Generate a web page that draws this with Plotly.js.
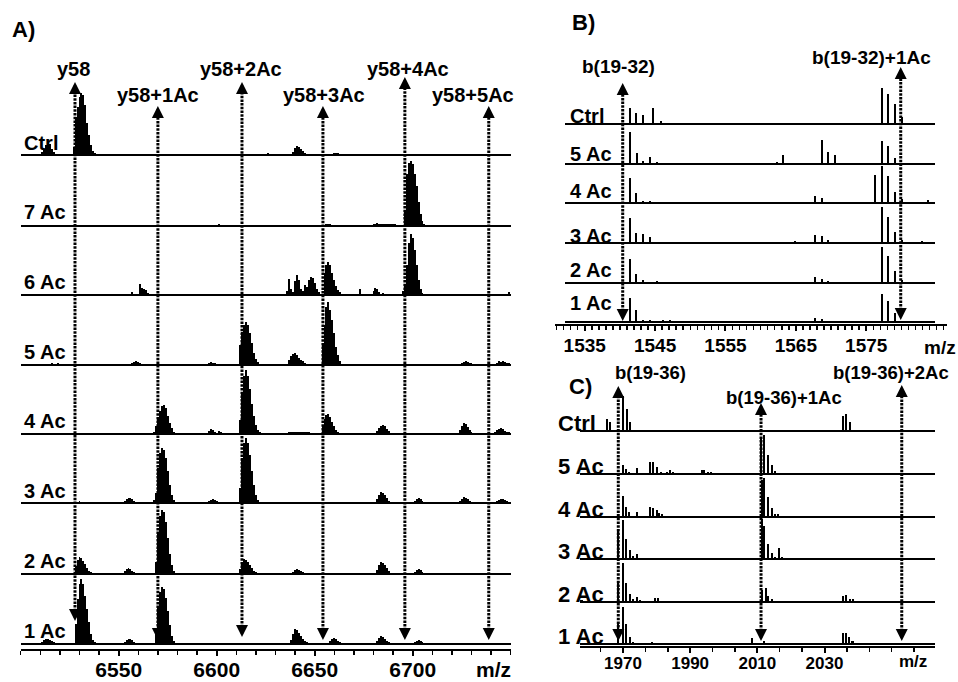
<!DOCTYPE html>
<html><head><meta charset="utf-8">
<script src="https://cdn.plot.ly/plotly-3.0.1.min.js"></script>
<style>html,body{margin:0;padding:0;background:#fff;}</style>
</head><body><div id="chart" style="width:958px;height:682px;"></div>
<script>
// ================= DATA =================
// ---- Panel A : y58 region ----
const A_rows = ['Ctrl', '7 Ac', '6 Ac', '5 Ac', '4 Ac', '3 Ac', '2 Ac', '1 Ac'];
const A_ticks = [6550, 6600, 6650, 6700];
const A_arrow_mz = [6527.7, 6570.0, 6612.9, 6654.2, 6696.0, 6738.8];
const A_arrow_labels = ['y58', 'y58+1Ac', 'y58+2Ac', 'y58+3Ac', 'y58+4Ac', 'y58+5Ac'];

const A_ctrl_mz = [6511,6512,6513,6514,6515,6516,6517,6518, 6527,6528,6529,6530,6531,6532,6533,6534,6535,6536,6537,6538, 6625,6626,6627, 6639,6640,6641,6642,6643,6644,6645,6646, 6660,6661,6662,6663];
const A_ctrl_int = [3,6,10,13,11,6,3,1.5, 8,38,48,58,62,60,50,32,20,10,4,2, 1.5,2,1.5, 3,7,9,8,6,4,2,1, 2,2,2,1.5];

const A_7ac_mz = [6601, 6656,6657,6658, 6680,6681,6682,6683,6684,6685,6686,6687,6688,6689,6690,6691, 6696,6697,6698,6699,6700,6701,6702,6703,6704,6705,6706];
const A_7ac_int = [2, 2,2,1.5, 1.5,2,3,2,2,1.5,1.5,1.5,1.5,1.5,2,2, 15,52,63,65,62,52,40,24,12,5,2];

const A_6ac_mz = [6557, 6561,6562,6563,6564,6565, 6636,6637,6638,6639,6640,6641,6642,6643,6644,6645,6646,6647,6648,6649,6650,6651,6652, 6655,6656,6657,6658,6659,6660,6661,6662,6663, 6673, 6680,6681,6682,6683,6685, 6695,6696,6697,6698,6699,6700,6701,6702,6703,6704,6705, 6749];
const A_6ac_int = [3, 11,7,6,5,2, 4,16,6,3,14,20,15,6,4,10,8,15,18,17,12,6,3, 22,30,33,30,22,15,9,5,3, 6, 4,7,6,3,2, 4,10,30,52,61,57,45,30,15,6,2, 3];

const A_5ac_mz = [6516,6519, 6557,6558,6559,6560,6561,6562, 6595,6596,6597,6598,6599,6600, 6612,6613,6614,6615,6616,6617,6618,6619,6620,6621, 6637,6638,6639,6640,6641,6642,6643,6644,6645, 6654,6655,6656,6657,6658,6659,6660,6661,6662,6663, 6725,6726,6727,6728,6729,6730,6731, 6743,6744,6745,6746,6747,6748,6749];
const A_5ac_int = [2,2, 2,3,4,3,2,1.5, 1.5,2.5,3,2.5,2,1.5, 20,33,40,43,40,32,22,12,6,3, 5,9,11,12,10,7,5,4,2, 20,40,58,63,55,45,32,18,10,4, 2,3,4,3,2,2,1.5, 2,4,3,4,3,2,2];

const A_4ac_mz = [6568, 6569,6570,6571,6572,6573,6574,6575,6576,6577,6578, 6596,6597,6598,6599,6601,6602, 6612,6613,6614,6615,6616,6617,6618,6619,6620,6621,6622, 6637,6638,6639,6640,6641,6642,6643,6644,6645,6646,6647, 6654,6655,6656,6657,6658,6659,6660,6661,6662, 6682,6683,6684,6685,6686,6687,6688,6689, 6724,6725,6726,6727,6728,6729,6730, 6742,6743,6744,6745,6746,6747,6748,6749];
const A_4ac_int = [2, 8,15,23,28,29,26,18,11,6,2, 3,5,4,2,3,2, 14,40,58,64,58,45,30,18,9,4,2, 2,2,2,2.5,2,2,2.5,2,2.5,2,2, 8,15,19,20,17,12,8,4,2, 3,6,8,9,8,5,3,1, 4,8,11,10,7,4,2, 2,4,5,6,5,3,2,2];

const A_3ac_mz = [6512,6514,6516,6518, 6528,6530,6532,6534, 6553,6554,6555,6556,6557,6558, 6568, 6569,6570,6571,6572,6573,6574,6575,6576,6577,6578, 6596,6597,6598,6599,6600,6601, 6612,6613,6614,6615,6616,6617,6618,6619,6620,6621, 6637,6639,6641,6643,6645, 6655,6657,6659,6661,6663, 6682,6683,6684,6685,6686,6687,6688, 6701,6702,6703,6704,6705, 6724,6725,6726,6727,6728,6729, 6743,6744,6745,6746,6747,6748,6749];
const A_3ac_int = [1,1.5,1,1, 1.5,2,1.5,1.5, 2,4,5,5,4,2, 3, 10,35,50,55,53,45,32,18,8,3, 2,3,4,3,2,1.5, 15,45,60,65,60,48,32,18,8,3, 1,1,1,1,1, 1.5,1.5,1.5,1.5,1.5, 4,8,11,10,8,5,2, 2,4,5,4,2, 2,4,6,5,4,2, 2,3,4,4,3,2,1.5];

const A_2ac_mz = [6506,6509,6512,6515,6518, 6528,6529,6530,6531,6532,6533,6534,6535,6536, 6553,6554,6555,6556,6557,6558, 6569,6570,6571,6572,6573,6574,6575,6576,6577,6578, 6596,6598,6600, 6612,6613,6614,6615,6616,6617,6618,6619,6620, 6639,6640,6641,6642,6643,6644, 6682,6683,6684,6685,6686,6687,6688, 6701,6702,6703,6704,6705];
const A_2ac_int = [1,1,1,1,1, 8,14,17,16,13,10,6,3,2, 3,5,6,5,3,2, 12,40,58,64,62,52,36,20,9,3, 1.5,1.5,1.5, 5,12,15,14,12,9,6,3,2, 2,4,5,4,3,2, 4,9,12,11,9,6,3, 2,4,5,4,2];

const A_1ac_mz = [6511,6512,6513,6514,6515,6516,6517, 6528,6529,6530,6531,6532,6533,6534,6535,6536,6537,6538, 6553,6554,6555,6556,6557,6558, 6569,6570,6571,6572,6573,6574,6575,6576,6577,6578, 6638,6639,6640,6641,6642,6643,6644,6645,6646, 6658,6659,6660,6661,6662,6663, 6682,6683,6684,6685,6686,6687,6688, 6701,6702,6703,6704,6705];
const A_1ac_int = [2,4,5,5,4,3,2, 20,45,60,65,60,48,35,22,10,4,2, 2,4,5,5,4,2, 10,38,52,57,55,46,33,19,8,3, 4,10,15,14,11,8,5,3,2, 3,5,6,5,3,2, 3,6,8,7,5,3,2, 2,3,4,3,2];

// ---- Panel B : b(19-32) region ----
const B_rows = ['Ctrl', '5 Ac', '4 Ac', '3 Ac', '2 Ac', '1 Ac'];
const B_ticks = [1535, 1545, 1555, 1565, 1575];
const B_arrow_mz = [1540.4, 1579.9];
const B_arrow_labels = ['b(19-32)', 'b(19-32)+1Ac'];

const B_ctrl_mz = [1541.45,1542.30,1543.25,1544.76,1545.81, 1577.20,1578.14,1579.09,1580.04];
const B_ctrl_int = [16.7,11.7,9.3,16,3.3, 36,30,20,7.6];
const B_5ac_mz = [1541.45,1542.40,1543.34,1544.29,1545.24, 1562.29,1563.22, 1568.68,1569.62,1570.57, 1577.20,1578.14,1579.09];
const B_5ac_int = [32,11,3.5,7.5,2, 2.3,9, 24,11.7,9.5, 23,18.3,5.7];
const B_4ac_mz = [1541.45,1542.30,1543.25,1544.29,1546.18, 1567.73,1568.68,1569.62, 1575.30,1576.25,1577.20,1578.14,1579.09,1580.04,1583.82];
const B_4ac_int = [25,10,2.3,2.3,1, 7.3,5,1, 1.7,28,37,27,11.7,4,3.3];
const B_3ac_mz = [1541.45,1542.30,1543.25,1544.29,1546.18,1547.13,1550.92,1551.87, 1561.05,1562.00, 1564.89,1565.84,1566.78,1567.73,1568.68,1569.62,1570.57,1572.46, 1577.20,1578.14,1579.09,1580.04,1580.98,1582.88];
const B_3ac_int = [24.3,9.3,8.7,6,1,1,1,1, 1,1, 2,1,1,7.7,6.7,2.7,0.8,0.8, 35.3,26,10.3,2.7,1,2];
const B_2ac_mz = [1541.45,1542.30,1543.25,1544.29,1545.24, 1560.20,1562.00,1563.90, 1564.89,1565.84,1566.78,1567.73,1568.68,1569.62, 1577.20,1578.14,1579.09,1580.04,1580.98,1583.82];
const B_2ac_int = [24.3,9.3,3.3,1.7,2, 1,1,1, 1.7,1,1,6,4.3,2, 36,27.7,12.7,3.7,1,1];
const B_1ac_mz = [1541.45,1542.30,1543.25,1544.29,1546.18,1547.13, 1560.20,1561.10,1562.00, 1563.93,1565.84,1566.78,1567.73,1568.68,1569.62, 1577.20,1578.14,1579.09];
const B_1ac_int = [24,12.3,2.3,2.3,2.3,2.3, 1,1,1, 0.7,1.3,1.3,4,3.3,1.3, 28.3,21.3,9];

// ---- Panel C : b(19-36) region ----
const C_rows = ['Ctrl', '5 Ac', '4 Ac', '3 Ac', '2 Ac', '1 Ac'];
const C_ticks = [1970, 1990, 2010, 2030];
const C_arrow_mz = [1968.6, 2011.1, 2053.0];
const C_arrow_labels = ['b(19-36)', 'b(19-36)+1Ac', 'b(19-36)+2Ac'];

const C_ctrl_mz = [1965.15,1966.20, 1969.90,1971.10,1972.08, 2035.39,2036.37,2037.56];
const C_ctrl_int = [11.7,9.3, 35,21.7,9.3, 15,16.7,8.7];
const C_5ac_mz = [1961.07,1962.06,1963.15, 1969.90,1970.89,1971.88,1973.07,1974.26, 1978.04,1979.02,1980.21,1981.22,1983.18,1983.99,1984.97, 1992.41,1993.42,1994.20,1995.21,1996.19, 2009.79,2011.07,2012.05,2013.24,2014.26,2015.24,2016.22];
const C_5ac_int = [1,1,1, 9.3,5,2.7,1.7,6, 12.7,12.7,7,2.7,2.7,4.3,2.7, 1.7,4.3,4.3,2,2, 1,35,39.3,19.3,9.3,3.7,1.7];
const C_4ac_mz = [1969.90,1970.89,1971.88,1974.08, 1978.04,1979.02,1980.03,1980.80,1981.52, 2011.28,2012.05,2013.24,2014.26,2015.24,2016.22];
const C_4ac_int = [20.7,10,5,5, 10,9,6.7,4,2.3, 36.7,39,20,8.3,2.3,2.3];
const C_3ac_mz = [1958.18,1959.20,1960.18,1961.16, 1968.60,1969.91,1970.98,1971.99,1972.98,1974.17, 1978.04,1979.02,1988.96,1989.94,1990.92,1991.93, 2011.28,2012.05,2013.24,2014.26,2015.24,2016.43,2017.41,2018.21, 2026.55,2027.65,2028.63,2029.61];
const C_3ac_int = [1,1.5,1,1, 30,39,20,9,3,5, 1,1,1,1.5,1,1, 40,33.3,15.3,6,2.7,11,2.7,1.7, 1,1,1,1];
const C_2ac_mz = [1957.40,1957.90,1958.69, 1968.60,1969.90,1970.89,1972.08,1973.07,1974.08,1975.06,1976.25,1977.23,1979.52,1980.33, 2009.79,2011.28,2012.50,2013.24,2014.43, 2035.39,2036.37,2037.56,2038.54];
const C_2ac_int = [2,2,1, 20,39,19,7.7,2.3,5,1.7,1,1,3.3,3.3, 1,12,14,6,2.3, 5.7,6.7,2.7,2.7];
const C_1ac_mz = [1968.60,1969.90,1970.89,1972.08,1973.07,1978.54,1979.52,1980.51, 2008.30,2012.05,2013.07, 2035.39,2036.37,2037.35,2038.36,2039.35];
const C_1ac_int = [20,37.7,20,7.7,2.7,2.7,1,1, 6.7,3.3,1, 11,11,7,3.7,1];

// ================= LAYOUT / DRAWING =================
const W = 958, H = 682;
const fx = p => p / W;
const fy = p => 1 - p / H;
const FONT = 'Arial, "Liberation Sans", sans-serif';

const panels = [
  { name: 'A', xa: 'x', rows: A_rows,
    mz: [A_ctrl_mz, A_7ac_mz, A_6ac_mz, A_5ac_mz, A_4ac_mz, A_3ac_mz, A_2ac_mz, A_1ac_mz],
    it: [A_ctrl_int, A_7ac_int, A_6ac_int, A_5ac_int, A_4ac_int, A_3ac_int, A_2ac_int, A_1ac_int],
    dom: [20.7, 510.7], range: [6500, 6750], axisY: 650,
    base: [155, 225.7, 295, 365, 434, 503.3, 574, 643.7], rowH: 69.8, barW: 1.0,
    ticks: A_ticks, minorD: 10, minor0: 6500, tickSize: 21, standoff: -4,
    labX: 22, labY: [143, 212, 282, 352, 421, 491, 561, 631], labSize: 20,
    arrMz: A_arrow_mz, arrLab: A_arrow_labels,
    arrTop: [82, 106, 82, 106, 77, 106], arrBot: [621, 640, 637, 640, 640, 640],
    labPos: [[73, 69], [157.5, 95], [241, 69], [324, 95], [407.5, 69], [473, 95]], arrLabSize: 20,
    mzPos: [493, 669], mzSize: 21, letter: ['A)', 10, 30] },
  { name: 'B', xa: 'x2', rows: B_rows, tickAxis: { id: 'x4', yid: 'y21', dom: [555, 947] },
    mz: [B_ctrl_mz, B_5ac_mz, B_4ac_mz, B_3ac_mz, B_2ac_mz, B_1ac_mz],
    it: [B_ctrl_int, B_5ac_int, B_4ac_int, B_3ac_int, B_2ac_int, B_1ac_int],
    dom: [565, 935], range: [1532.2, 1584.77], axisY: 325,
    base: [124.3, 164, 203.3, 242.7, 283.3, 322.3], rowH: 39.6, barW: 0.3,
    ticks: B_ticks, minorD: 1, minor0: 1535, tickSize: 19, standoff: -2,
    labX: 568, labY: [116, 154, 191, 236, 270, 303], labSize: 20,
    arrMz: B_arrow_mz, arrLab: B_arrow_labels,
    arrTop: [83, 67], arrBot: [321, 320],
    labPos: [[618.5, 66], [871.5, 57]], arrLabSize: 19,
    mzPos: [940, 347], mzSize: 19, letter: ['B)', 570, 23] },
  { name: 'C', xa: 'x3', rows: C_rows,
    mz: [C_ctrl_mz, C_5ac_mz, C_4ac_mz, C_3ac_mz, C_2ac_mz, C_1ac_mz],
    it: [C_ctrl_int, C_5ac_int, C_4ac_int, C_3ac_int, C_2ac_int, C_1ac_int],
    dom: [580, 935], range: [1957.2, 2062.9], axisY: 647,
    base: [431, 474.3, 516.7, 559.3, 601.7, 644.3], rowH: 42.6, barW: 0.65,
    ticks: C_ticks, minorD: 20 / 3, minor0: 1970, tickSize: 17, standoff: -4,
    labX: 556, labY: [423, 467, 509, 551, 594, 636], labSize: 22,
    arrMz: C_arrow_mz, arrLab: C_arrow_labels,
    arrTop: [386, 403, 385], arrBot: [641, 641, 641],
    labPos: [[650, 372], [783.5, 397], [891, 372]], arrLabSize: 18.5,
    mzPos: [913, 661], mzSize: 17, letter: ['C)', 567, 386] }
];

const traces = [];
const layout = {
  width: W, height: H, margin: { l: 0, r: 0, t: 0, b: 0 },
  paper_bgcolor: '#ffffff', plot_bgcolor: 'rgba(0,0,0,0)',
  showlegend: false, hovermode: false, bargap: 0,
  font: { family: FONT, color: '#000', weight: 'bold' },
  shapes: [], annotations: []
};

function axKey(id) { return id === 'x' ? 'xaxis' : 'xaxis' + id.slice(1); }
function yKeyOf(id) { return id === 'y' ? 'yaxis' : 'yaxis' + id.slice(1); }
function tickAxisSpec(P, dom, range) {
  return {
    domain: [fx(dom[0]), fx(dom[1])], range: range,
    anchor: 'free', position: fy(P.axisY),
    showline: true, linecolor: '#000', linewidth: 2,
    ticks: 'outside', ticklen: 5, tickwidth: 2, tickcolor: '#000',
    tickmode: 'array', tickvals: P.ticks, ticktext: P.ticks.map(String),
    tickfont: { family: FONT, size: P.tickSize, color: '#000', weight: 'bold' },
    ticklabelstandoff: P.standoff,
    showgrid: false, zeroline: false, fixedrange: true,
    minor: { tickmode: 'linear', tick0: P.minor0, dtick: P.minorD, ticks: 'outside', ticklen: 4, tickwidth: 1.5, tickcolor: '#000', showgrid: false }
  };
}

let yi = 0;
panels.forEach(P => {
  if (P.tickAxis) {
    // data axis (hidden) + wider axis carrying line/ticks on the same m/z scale
    const pxPerUnit = (P.dom[1] - P.dom[0]) / (P.range[1] - P.range[0]);
    const r0 = P.range[0] - (P.dom[0] - P.tickAxis.dom[0]) / pxPerUnit;
    const r1 = P.range[1] + (P.tickAxis.dom[1] - P.dom[1]) / pxPerUnit;
    layout[axKey(P.xa)] = { domain: [fx(P.dom[0]), fx(P.dom[1])], range: P.range, anchor: 'free', position: fy(P.axisY),
      showline: false, ticks: '', showticklabels: false, showgrid: false, zeroline: false, fixedrange: true };
    layout[axKey(P.tickAxis.id)] = tickAxisSpec(P, P.tickAxis.dom, [r0, r1]);
    layout[yKeyOf(P.tickAxis.yid)] = { domain: [fy(P.axisY), fy(P.axisY - 10)], range: [0, 1], anchor: P.tickAxis.id,
      showline: false, showticklabels: false, ticks: '', showgrid: false, zeroline: false, fixedrange: true };
    // empty trace so the tick-carrying axis gets its own subplot
    traces.push({ type: 'scatter', mode: 'markers', x: [], y: [], xaxis: P.tickAxis.id, yaxis: P.tickAxis.yid, hoverinfo: 'skip' });
  } else {
    layout[axKey(P.xa)] = tickAxisSpec(P, P.dom, P.range);
  }
  P.rows.forEach((r, i) => {
    yi += 1;
    const yRef = yi === 1 ? 'y' : 'y' + yi;
    layout[yKeyOf(yRef)] = {
      domain: [fy(P.base[i]), fy(P.base[i] - P.rowH)], range: [0, P.rowH],
      anchor: P.xa, showticklabels: false, ticks: '', showgrid: false, showline: false,
      zeroline: true, zerolinecolor: '#000', zerolinewidth: 2, fixedrange: true
    };
    traces.push({
      type: 'bar', x: P.mz[i], y: P.it[i], xaxis: P.xa, yaxis: yRef,
      width: P.barW, marker: { color: '#000', line: { width: 0 } }, hoverinfo: 'skip'
    });
    layout.annotations.push({
      xref: 'paper', yref: 'paper', x: fx(P.labX), y: fy(P.labY[i]),
      xanchor: 'left', yanchor: 'middle', showarrow: false, text: r,
      font: { family: FONT, size: P.labSize, color: '#000', weight: 'bold' }
    });
  });
  // arrows
  P.arrMz.forEach((m, k) => {
    layout.shapes.push({
      type: 'line', xref: P.xa, yref: 'paper', x0: m, x1: m,
      y0: fy(P.arrBot[k] - 6), y1: fy(P.arrTop[k] + 6),
      line: { color: '#000', width: 3, dash: '2.5px,1.2px' }
    });
    layout.annotations.push({
      xref: P.xa, yref: 'paper', x: m, y: fy(P.arrTop[k]), axref: 'pixel', ayref: 'pixel',
      ax: 0, ay: 9, text: '', showarrow: true, arrowhead: 2, arrowsize: 1, arrowwidth: 2.4, arrowcolor: '#000', standoff: 0
    });
    layout.annotations.push({
      xref: P.xa, yref: 'paper', x: m, y: fy(P.arrBot[k]), axref: 'pixel', ayref: 'pixel',
      ax: 0, ay: -9, text: '', showarrow: true, arrowhead: 2, arrowsize: 1, arrowwidth: 2.4, arrowcolor: '#000', standoff: 0
    });
    layout.annotations.push({
      xref: 'paper', yref: 'paper', x: fx(P.labPos[k][0]), y: fy(P.labPos[k][1]),
      xanchor: 'center', yanchor: 'middle', showarrow: false, text: P.arrLab[k],
      font: { family: FONT, size: P.arrLabSize, color: '#000', weight: 'bold' }
    });
  });
  layout.annotations.push({
    xref: 'paper', yref: 'paper', x: fx(P.mzPos[0]), y: fy(P.mzPos[1]),
    xanchor: 'center', yanchor: 'middle', showarrow: false, text: 'm/z',
    font: { family: FONT, size: P.mzSize, color: '#000', weight: 'bold' }
  });
  layout.annotations.push({
    xref: 'paper', yref: 'paper', x: fx(P.letter[1]), y: fy(P.letter[2]),
    xanchor: 'left', yanchor: 'middle', showarrow: false, text: P.letter[0],
    font: { family: FONT, size: 22, color: '#000', weight: 'bold' }
  });
});

Plotly.newPlot('chart', traces, layout, { staticPlot: true, displayModeBar: false });
</script>
</body></html>
